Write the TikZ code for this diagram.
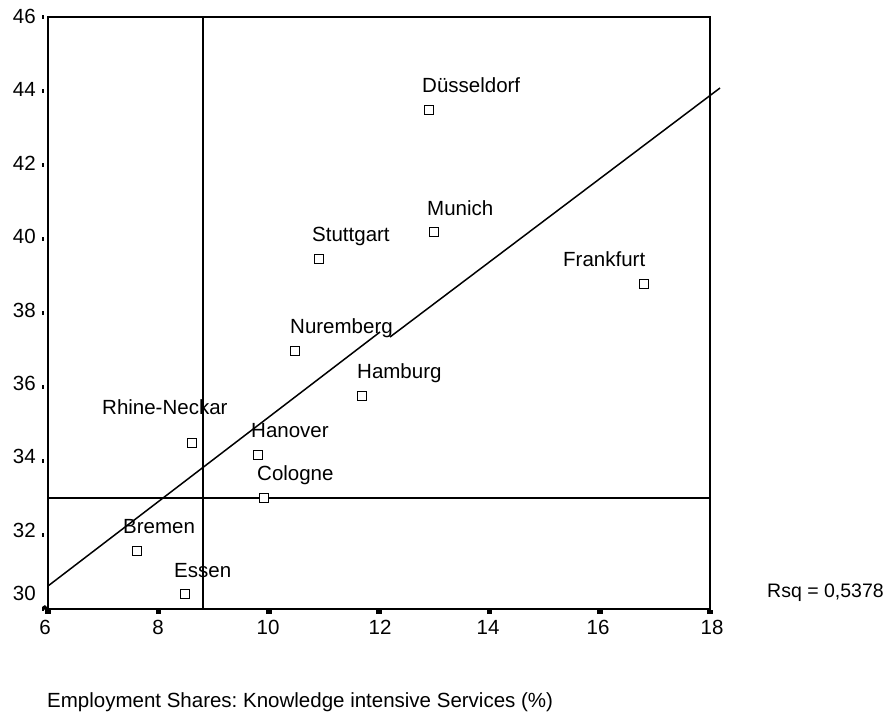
\documentclass[tikz,border=0pt]{standalone}
\usepackage{fontspec}
\setmainfont{Liberation Sans}
\frenchspacing
\begin{document}
\begin{tikzpicture}[x=1pt,y=-1pt,
  txt/.style={font=\fontsize{20.5}{24}\selectfont, inner sep=0pt},
  lbl/.style={txt, anchor=base west},
  ylab/.style={txt, anchor=base east},
  xlab/.style={txt, anchor=base},
  pt/.style={draw, line width=1.7pt, minimum size=9pt, inner sep=0pt, fill=white, rectangle},
  frame/.style={line width=2pt},
  refline/.style={line width=1.5pt},
  fitline/.style={line width=1.5pt},
  tick/.style={fill=black}]
\useasboundingbox[fill=white] (0,0) rectangle (894,715);

% reference lines
\draw[refline] (203,17) -- (203,609);
\draw[refline] (48,498) -- (710,498);

% frame
\draw[frame] (48,17) rectangle (710,609);

% y ticks and labels
\foreach \v/\t/\b in {46/17/23,44/91/96,42/165/170,40/239/243,38/313/317,36/387/390,34/461/463,32/535/537,30/609/600}{
  \fill[tick] (41.5,\t-1.8) rectangle (44,\t+1.8);
  \node[ylab] (y\v) at (36,\b) {\v};
}
% x ticks and labels
\foreach \v/\x/\c in {6/48/45,8/158.3/158,10/268.7/268,12/379/380,14/489.4/488,16/599.7/598,18/710/712}{
  \fill[tick] (\x-2.8,610) rectangle (\x+2.8,613.5);
  \node[xlab] (x\v) at (\c,634) {\v};
}
\fill[tick] (42,607) -- (45,605) -- (51,611) -- (48,613) -- cycle;

% fit line
\coordinate (fa) at (48,586);
\coordinate (fb) at (380,332);
\coordinate (fc) at (390,337);
\coordinate (fd) at (720,88);
\draw[fitline] (fa) -- (fb);
\draw[fitline] (fc) -- (fd);

% points
\node[pt] (pdus) at (429,110) {};
\node[pt] (pmun) at (434,232) {};
\node[pt] (pstu) at (319,259) {};
\node[pt] (pfra) at (644,284) {};
\node[pt] (pnur) at (295,351) {};
\node[pt] (pham) at (362,396) {};
\node[pt] (prhi) at (192,443) {};
\node[pt] (phan) at (258,455) {};
\node[pt] (pcol) at (264,498) {};
\node[pt] (pbre) at (137,551) {};
\node[pt] (pess) at (185,594) {};

% labels
\node[lbl] (ldus) at (422,92) {Düsseldorf};
\node[lbl] (lmun) at (427,215) {Munich};
\node[lbl] (lstu) at (312,241) {Stuttgart};
\node[lbl] (lfra) at (563,266) {Frankfurt};
\node[lbl] (lnur) at (290,333) {Nuremberg};
\node[lbl] (lham) at (357,378) {Hamburg};
\node[lbl] (lrhi) at (102,414) {Rhine-Neckar};
\node[lbl] (lhan) at (251,437) {Hanover};
\node[lbl] (lcol) at (257,480) {Cologne};
\node[lbl] (lbre) at (123,533) {Bremen};
\node[lbl] (less) at (174,577) {Essen};

% annotations
\node[lbl, font=\fontsize{19.5}{24}\selectfont] (rsq) at (767,597) {Rsq = 0,5378};
\node[lbl] (title) at (47,707) {Employment Shares: Knowledge intensive Services (\%)};
\end{tikzpicture}
\end{document}
